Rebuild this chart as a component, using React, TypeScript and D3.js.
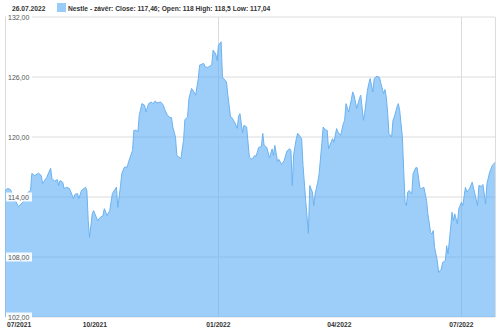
import React from "react";
import * as d3 from "d3";

const dates: string[] = [
  "2021-07-26","2021-07-28","2021-07-30","2021-08-02","2021-08-05","2021-08-08","2021-08-11","2021-08-12","2021-08-14","2021-08-15",
  "2021-08-17","2021-08-20","2021-08-22","2021-08-23","2021-08-26","2021-08-29","2021-08-30","2021-09-01","2021-09-03","2021-09-04",
  "2021-09-05","2021-09-07","2021-09-08","2021-09-10","2021-09-12","2021-09-15","2021-09-16","2021-09-18","2021-09-19","2021-09-21",
  "2021-09-24","2021-09-25","2021-09-26","2021-09-27","2021-09-29","2021-09-30","2021-10-03","2021-10-05","2021-10-07","2021-10-08",
  "2021-10-10","2021-10-12","2021-10-14","2021-10-17","2021-10-18","2021-10-20","2021-10-21","2021-10-23","2021-10-25","2021-10-26",
  "2021-10-29","2021-10-30","2021-11-01","2021-11-02","2021-11-03","2021-11-05","2021-11-07","2021-11-08","2021-11-10","2021-11-12",
  "2021-11-13","2021-11-15","2021-11-16","2021-11-19","2021-11-21","2021-11-22","2021-11-24","2021-11-26","2021-11-27","2021-11-28",
  "2021-11-30","2021-12-01","2021-12-02","2021-12-04","2021-12-06","2021-12-07","2021-12-09","2021-12-10","2021-12-12","2021-12-13",
  "2021-12-15","2021-12-17","2021-12-18","2021-12-21","2021-12-22","2021-12-24","2021-12-27","2021-12-28","2021-12-30","2021-12-31",
  "2022-01-01","2022-01-03","2022-01-04","2022-01-07","2022-01-08","2022-01-10","2022-01-11","2022-01-13","2022-01-15","2022-01-16",
  "2022-01-17","2022-01-19","2022-01-20","2022-01-22","2022-01-24","2022-01-26","2022-01-28","2022-01-29","2022-01-31","2022-02-02",
  "2022-02-03","2022-02-04","2022-02-06","2022-02-08","2022-02-10","2022-02-11","2022-02-12","2022-02-14","2022-02-15","2022-02-17",
  "2022-02-19","2022-02-21","2022-02-23","2022-02-24","2022-02-25","2022-02-26","2022-02-28","2022-03-01","2022-03-04","2022-03-05",
  "2022-03-07","2022-03-09","2022-03-10","2022-03-12","2022-03-13","2022-03-14","2022-03-16","2022-03-17","2022-03-19","2022-03-20",
  "2022-03-22","2022-03-23","2022-03-24","2022-03-27","2022-03-28","2022-03-30","2022-03-31","2022-04-02","2022-04-04","2022-04-05",
  "2022-04-06","2022-04-08","2022-04-10","2022-04-11","2022-04-12","2022-04-14","2022-04-16","2022-04-17","2022-04-19","2022-04-20",
  "2022-04-22","2022-04-23","2022-04-24","2022-04-26","2022-04-27","2022-04-29","2022-05-01","2022-05-02","2022-05-04","2022-05-05",
  "2022-05-06","2022-05-07","2022-05-08","2022-05-10","2022-05-11","2022-05-12","2022-05-14","2022-05-15","2022-05-16","2022-05-18",
  "2022-05-19","2022-05-20","2022-05-21","2022-05-22","2022-05-23","2022-05-25","2022-05-26","2022-05-28","2022-05-29","2022-05-31",
  "2022-06-01","2022-06-03","2022-06-05","2022-06-06","2022-06-08","2022-06-09","2022-06-10","2022-06-11","2022-06-13","2022-06-14",
  "2022-06-16","2022-06-17","2022-06-19","2022-06-20","2022-06-21","2022-06-23","2022-06-24","2022-06-25","2022-06-26","2022-06-28",
  "2022-06-29","2022-07-01","2022-07-02","2022-07-04","2022-07-05","2022-07-07","2022-07-08","2022-07-09","2022-07-11","2022-07-13",
  "2022-07-14","2022-07-16","2022-07-17","2022-07-19","2022-07-20","2022-07-22","2022-07-24","2022-07-26",
];

const closes: number[] = [
  114.65,114.85,114.75,113.85,113.04,113.44,114.05,114.45,114.65,116.35,
  116.15,116.38,116.15,115.35,115.95,116.88,115.85,115.58,115.75,115.15,
  115.65,115.48,114.85,114.98,114.85,113.85,114.25,114.35,113.85,114.65,
  114.98,114.65,111.64,109.96,112.34,112.64,111.64,111.97,112.14,112.84,
  112.14,112.64,114.35,114.98,112.97,115.05,116.35,116.99,116.99,117.49,
  118.66,120.67,120.67,120.50,122.17,123.34,123.17,122.50,123.34,123.50,
  123.34,123.60,123.40,123.50,123.17,122.74,122.17,121.94,121.94,121.00,
  119.99,118.16,118.06,117.83,119.66,121.74,122.00,123.85,124.85,124.68,
  124.18,125.85,127.19,127.36,127.02,126.96,127.19,128.69,128.29,127.62,
  129.19,129.52,125.98,125.51,124.18,122.00,121.94,121.50,120.87,122.07,
  122.34,120.42,121.17,121.00,117.99,117.76,118.16,118.06,118.96,119.06,
  120.37,119.16,118.96,117.91,118.81,118.16,119.16,117.56,117.76,117.26,
  117.66,118.59,118.83,118.66,115.15,118.26,119.83,120.37,119.83,117.16,
  113.65,110.37,115.15,114.48,113.14,114.32,115.48,116.32,119.33,121.00,
  120.67,120.67,118.83,119.83,119.49,120.84,120.50,120.16,121.34,121.67,
  123.34,122.50,123.75,124.51,124.18,122.84,123.85,124.18,121.67,122.47,
  124.68,125.35,125.85,124.51,125.85,126.08,125.95,125.35,124.35,124.75,
  124.01,122.50,120.34,119.99,121.67,122.00,123.00,123.34,122.67,119.99,
  116.65,113.48,113.14,114.48,114.65,114.32,116.32,116.93,116.93,114.98,
  114.82,114.98,113.65,112.31,110.47,110.31,110.64,108.96,107.63,106.45,
  106.79,107.46,107.63,109.13,108.30,110.97,112.47,111.64,112.31,111.31,
  112.81,113.48,113.14,114.98,114.48,114.82,115.15,115.48,114.32,113.14,
  115.15,115.05,115.25,113.32,115.32,116.48,117.16,117.46,
];

const yTicks: number[] = [102, 108, 114, 120, 126, 132];
const xTickDates: string[] = ["2021-07-01", "2021-10-01", "2022-01-01", "2022-04-01", "2022-07-01"];
const xTickLabels: string[] = ["07/2021", "10/2021", "01/2022", "04/2022", "07/2022"];
const xGridDates: string[] = ["2022-01-01", "2022-07-01"];

const headerDate = "26.07.2022";
const legendText = "Nestle - závěr: Close: 117,46; Open: 118 High: 118,5 Low: 117,04";

const W = 500;
const H = 331;
const L = 5;
const R = 495;
const T = 17;
const B = 317;

export default function App() {
  const parse = d3.utcParse("%Y-%m-%d");
  const data = dates.map((d, i) => ({ date: parse(d) as Date, v: closes[i] }));
  const x = d3.scaleUtc().domain([parse("2021-07-26") as Date, parse("2022-07-26") as Date]).range([L, R]);
  const y = d3.scaleLinear().domain([102, 132]).range([B, T]);

  const area = d3.area<{ date: Date; v: number }>()
    .x((d) => x(d.date))
    .y0(y(102))
    .y1((d) => y(d.v));
  const line = d3.line<{ date: Date; v: number }>()
    .x((d) => x(d.date))
    .y((d) => y(d.v));

  const fmt = (v: number) => v.toFixed(2).replace(".", ",");
  const font = "'Liberation Sans', Arial, sans-serif";

  return (
    <svg width={W} height={H} style={{ position: "absolute", left: 0, top: 0, display: "block" }} fontFamily={font}>
      <rect x={0} y={0} width={W} height={H} fill="#fff" />
      {/* header */}
      <text x={12} y={11} fontSize={6.7} fontWeight="bold" fill="#333">{headerDate}</text>
      <rect x={57} y={3} width={9} height={9} fill="#99ccf7" />
      <text x={68} y={11} fontSize={6.7} fontWeight="bold" fill="#333">{legendText}</text>

      {/* grid */}
      {yTicks.map((t) => (
        <line key={"g" + t} x1={L} x2={R} y1={y(t)} y2={y(t)} stroke="#dcdcdc" strokeWidth={1} />
      ))}
      {xGridDates.map((d) => {
        const xx = Math.round(x(parse(d) as Date)) + 0.5;
        return <line key={"v" + d} x1={xx} x2={xx} y1={T} y2={B} stroke="#dcdcdc" strokeWidth={1} />;
      })}
      <line x1={L + 0.5} x2={L + 0.5} y1={T} y2={B} stroke="#dcdcdc" />
      <line x1={R + 0.5} x2={R + 0.5} y1={T} y2={B} stroke="#dcdcdc" />

      {/* area */}
      <path d={area(data) || ""} fill="#5aaef5" fillOpacity={0.6} />
      <path d={line(data) || ""} fill="none" stroke="#6db2ef" strokeWidth={1} />

      {/* y labels */}
      {yTicks.map((t) => (
        <g key={"l" + t}>
          <rect x={L + 1} y={y(t) - 4.5} width={26} height={9} fill="#fff" fillOpacity={0.9} />
          <text x={8} y={y(t) + 2.5} fontSize={7} fill="#555">{fmt(t)}</text>
        </g>
      ))}

      {/* x labels */}
      {xTickDates.map((d, i) => {
        const xx = x(parse(d) as Date);
        const outside = xx < L;
        return (
          <text key={"x" + d} x={outside ? 7 : xx} y={327} fontSize={6.7} fontWeight="bold" fill="#333"
            textAnchor={outside ? "start" : "middle"}>
            {xTickLabels[i]}
          </text>
        );
      })}
    </svg>
  );
}
